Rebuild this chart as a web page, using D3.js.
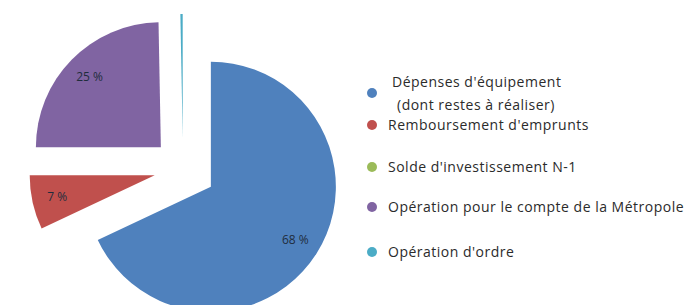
<!DOCTYPE html>
<html>
<head>
<meta charset="utf-8">
<script src="https://cdn.jsdelivr.net/npm/d3@7"></script>
<style>
  body { margin: 0; background: #fff; }
  svg { display: block; }
</style>
</head>
<body>
<svg id="chart" width="693" height="305"></svg>
<script>
// data (parts of the total, in %)
const categories = [
  'Dépenses d\'équipement',
  'Remboursement d\'emprunts',
  'Solde d\'investissement N-1',
  'Opération pour le compte de la Métropole',
  'Opération d\'ordre',
];
const legendLines = [
  ['Dépenses d\'équipement', '(dont restes à réaliser)'],
  ['Remboursement d\'emprunts'],
  ['Solde d\'investissement N-1'],
  ['Opération pour le compte de la Métropole'],
  ['Opération d\'ordre'],
];
const values = [68.0, 7.0, 0, 24.7, 0.3];
const colors = ['#4f81bd', '#c0504d', '#9bbb59', '#8064a2', '#4bacc6'];

const center = { x: 183, y: 169 };
const radius = 125;
// how far each slice is pulled out of the pie
const explode = [33, 29, 30, 31, 30];

const svg = d3.select('#chart');

const pie = d3.pie().sort(null).value((d) => d.value);
const arcs = pie(categories.map((c, i) => ({ name: c, value: values[i], color: colors[i], explode: explode[i] })));
const arc = d3.arc().innerRadius(0).outerRadius(radius);
const labelArc = d3.arc().innerRadius(radius * 0.8).outerRadius(radius * 0.8);

const total = d3.sum(values);

// each slice is moved along its middle angle
const slices = svg
  .append('g')
  .selectAll('g')
  .data(arcs)
  .enter()
  .append('g')
  .attr('transform', (d) => {
    const mid = (d.startAngle + d.endAngle) / 2;
    const dx = Math.sin(mid) * d.data.explode;
    const dy = -Math.cos(mid) * d.data.explode;
    return `translate(${center.x + dx},${center.y + dy})`;
  });

slices
  .append('path')
  .attr('d', arc)
  .attr('fill', (d) => d.data.color);

slices
  .filter((d) => d.data.value / total >= 0.05)
  .append('text')
  .attr('transform', (d) => `translate(${labelArc.centroid(d)})`)
  .attr('text-anchor', 'middle')
  .attr('dy', '0.35em')
  .style('font-family', '"Open Sans", sans-serif')
  .style('font-size', '12px')
  .attr('fill', '#1f2d3d')
  .text((d) => `${Math.round((d.data.value / total) * 100)} %`);

// legend
const legendY = [93, 125, 167, 207, 252];
const legend = svg
  .append('g')
  .selectAll('g')
  .data(categories)
  .enter()
  .append('g')
  .attr('transform', (d, i) => `translate(372,${legendY[i]})`);

legend
  .append('circle')
  .attr('r', 5)
  .attr('fill', (d, i) => colors[i]);

legend
  .append('text')
  .style('font-family', '"Open Sans", sans-serif')
  .style('font-size', '14px')
  .style('letter-spacing', '0.5px')
  .attr('fill', '#2b2b2b')
  .each(function (d, i) {
    const lines = legendLines[i];
    const t = d3.select(this);
    lines.forEach((line, j) => {
      t.append('tspan')
        .attr('x', lines.length > 1 ? 20 + j * 5 : 16)
        .attr('y', lines.length > 1 ? -11 + j * 23 : 0)
        .attr('dy', '0.35em')
        .text(line);
    });
  });
</script>
</body>
</html>
